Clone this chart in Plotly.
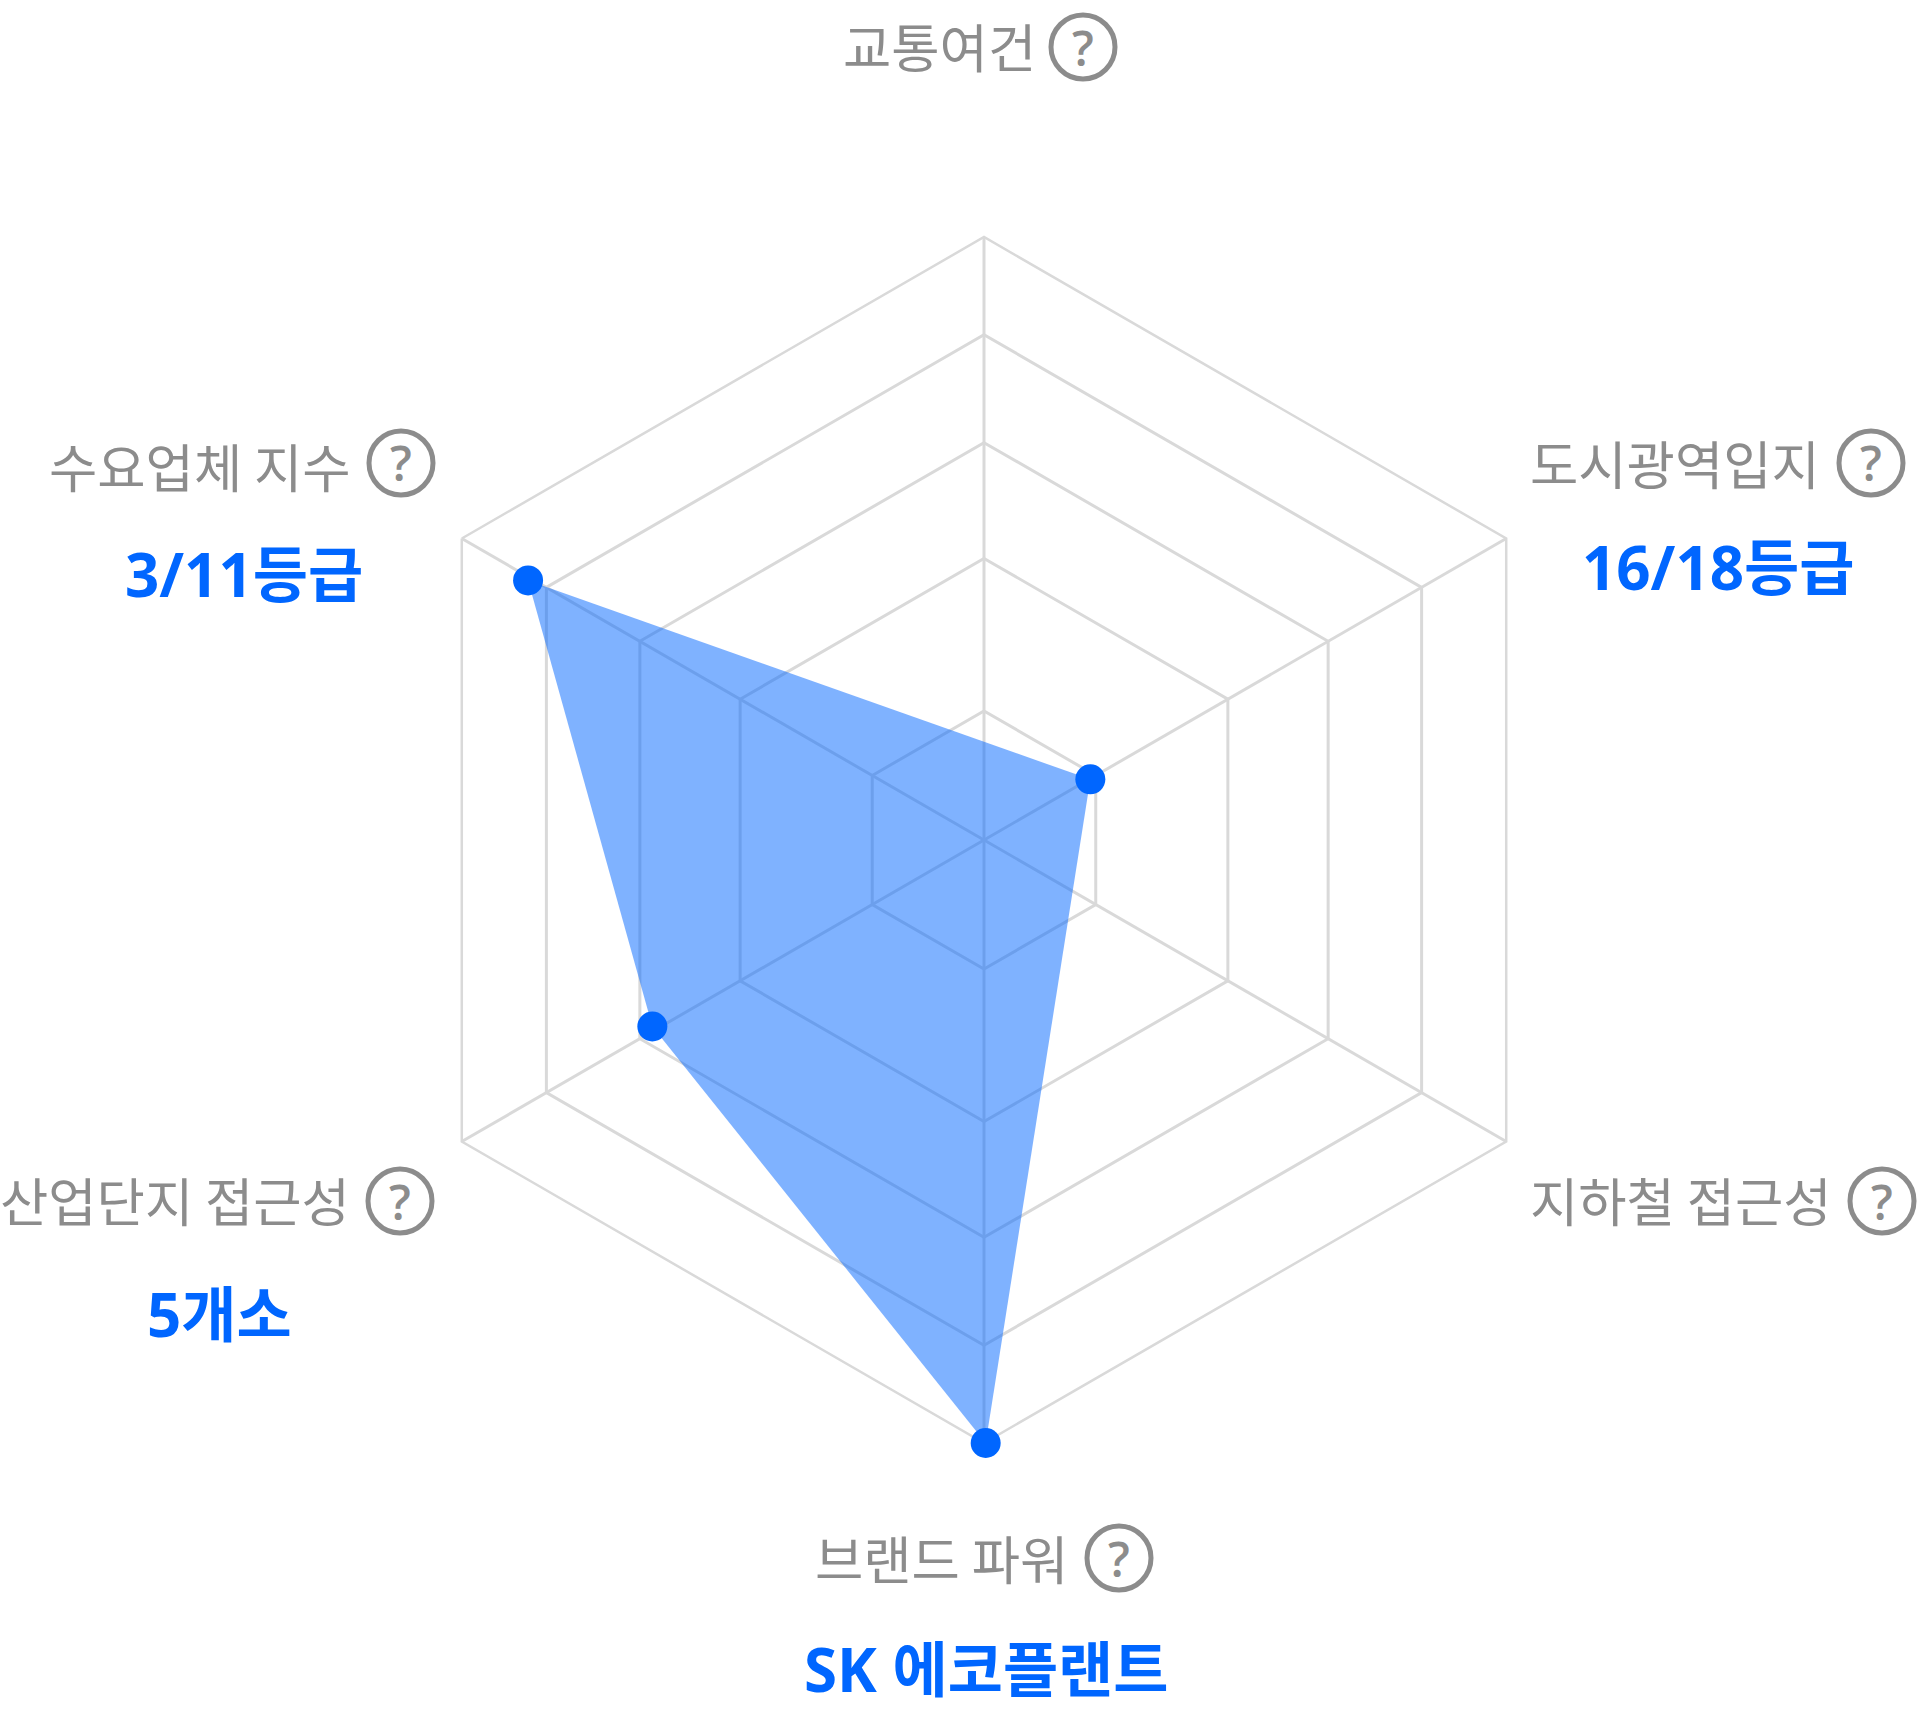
import plotly.graph_objects as go

W, H = 1920, 1714
CX, CY, R = 984, 840, 603

categories = ["교통여건", "도시광역입지", "지하철 접근성", "브랜드 파워", "산업단지 접근성", "수요업체 지수"]
grid_levels = [21.4, 46.7, 65.9, 83.8, 100]
point_angles = [60.3, 179.84, 240.65, 299.65]
point_values = [20.3, 100, 63.1, 87.0]

label_texts = ["교통여건", "도시광역입지", "지하철 접근성", "브랜드 파워", "산업단지 접근성", "수요업체 지수"]
label_centers = [(939.5, 45), (1675, 462), (1681, 1199), (941.5, 1557), (175, 1199), (200, 465)]
help_centers = [(1083, 47), (1871, 463), (1882, 1201), (1119, 1558), (400, 1201), (401, 463)]
value_texts = ["16/18등급", "SK 에코플랜트", "5개소", "3/11등급"]
value_centers = [(1717.5, 567), (985.5, 1669), (219.5, 1314), (244, 574)]

GRAY = "#8c8c8c"
BLUE = "#0066ff"
GRID = "#d9d9d9"
FONT = "Noto Sans CJK KR"
LATIN = "Open Sans, Noto Sans CJK KR"


def px(x):
    return x / W


def py(y):
    return 1 - y / H


fig = go.Figure()
# Grid-only polar subplot carrying the six categories
fig.add_trace(go.Scatterpolar(r=[None] * 6, theta=categories, mode="markers", hoverinfo="skip", subplot="polar"))
# Data subplot on the same area
fig.add_trace(
    go.Scatterpolar(
        r=point_values,
        theta=point_angles,
        subplot="polar2",
        mode="markers",
        fill="toself",
        fillcolor="rgba(0,102,255,0.5)",
        marker=dict(size=30, color=BLUE),
        line=dict(width=0),
        hoverinfo="skip",
        cliponaxis=False,
    )
)

annotations = []
for text, (x, y) in zip(label_texts, label_centers):
    annotations.append(dict(text=text, x=px(x), y=py(y), xref="paper", yref="paper", showarrow=False,
                            xanchor="center", yanchor="middle", font=dict(family=FONT, size=52.5, color=GRAY)))
for text, (x, y) in zip(value_texts, value_centers):
    annotations.append(dict(text=f"<b>{text}</b>", x=px(x), y=py(y), xref="paper", yref="paper", showarrow=False,
                            xanchor="center", yanchor="middle", font=dict(family=LATIN, size=60, color=BLUE)))
shapes = []
for x, y in help_centers:
    annotations.append(dict(text="?", x=px(x), y=py(y), xref="paper", yref="paper", showarrow=False,
                            xanchor="center", yanchor="middle",
                            font=dict(family=LATIN, size=48, color=GRAY, weight=600)))
    shapes.append(dict(type="circle", xref="paper", yref="paper", x0=px(x - 32), x1=px(x + 32),
                       y0=py(y + 32), y1=py(y - 32), line=dict(color=GRAY, width=5)))

domain = dict(x=[px(CX - R), px(CX + R)], y=[py(CY + R), py(CY - R)])
fig.update_layout(
    width=W,
    height=H,
    margin=dict(l=0, r=0, t=0, b=0),
    paper_bgcolor="white",
    showlegend=False,
    annotations=annotations,
    shapes=shapes,
    polar=dict(
        domain=domain,
        bgcolor="rgba(0,0,0,0)",
        gridshape="linear",
        radialaxis=dict(range=[0, 100], tickvals=grid_levels, showticklabels=False, ticks="",
                        showline=False, gridcolor=GRID, gridwidth=2.5, layer="below traces"),
        angularaxis=dict(type="category", categoryorder="array", categoryarray=categories,
                         rotation=90, direction="clockwise", showticklabels=False, ticks="",
                         showline=True, linecolor=GRID, linewidth=2.5,
                         gridcolor=GRID, gridwidth=2.5, layer="below traces"),
    ),
    polar2=dict(
        domain=domain,
        bgcolor="rgba(0,0,0,0)",
        radialaxis=dict(range=[0, 100], visible=False),
        angularaxis=dict(rotation=90, direction="clockwise", visible=False),
    ),
)

fig.write_html("out.html", post_script="document.body.style.margin='0';", config=dict(displayModeBar=False))
